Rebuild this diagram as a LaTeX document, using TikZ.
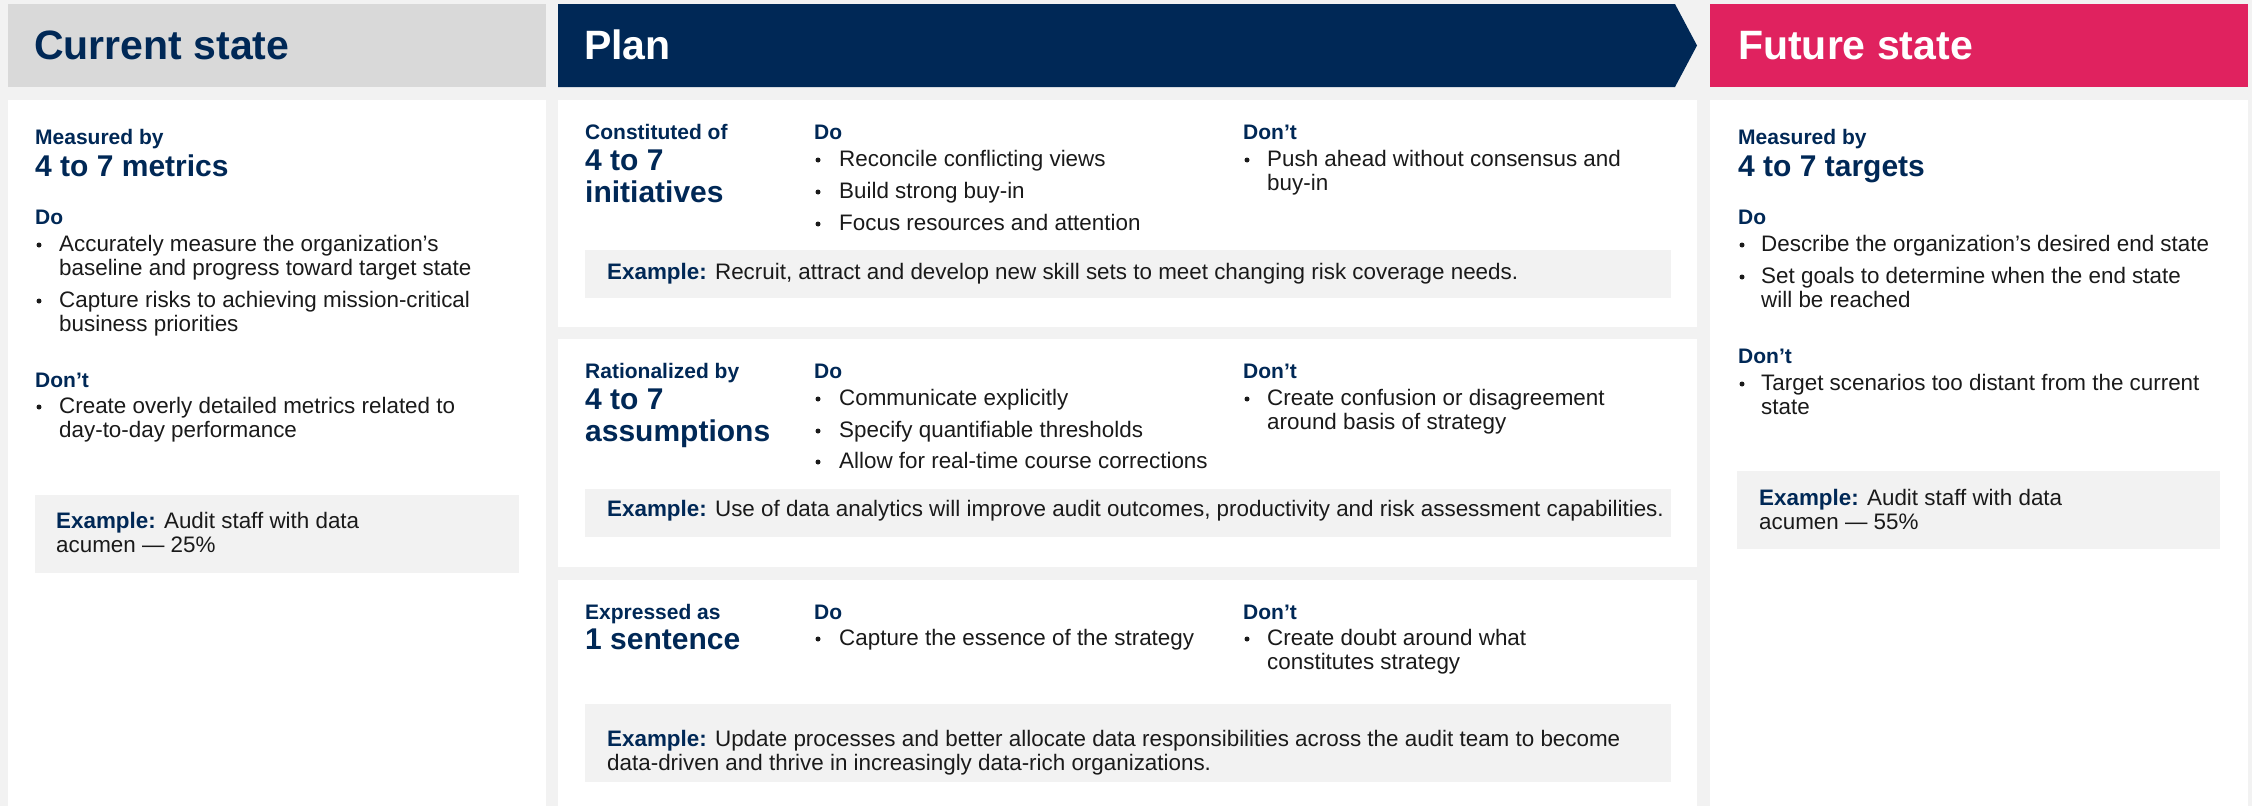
\documentclass[tikz,border=0pt]{standalone}
\usepackage{fontspec}
\setmainfont{Liberation Sans}
\definecolor{navy}{HTML}{002856}
\definecolor{pinkc}{HTML}{E0225F}
\definecolor{hdrgray}{HTML}{D9D9D9}
\definecolor{bgc}{HTML}{F2F2F2}
\definecolor{txt}{HTML}{1A1A1A}
\newcommand\tx[5]{\node[#1,anchor=base west,inner sep=0pt] (#2) at (#3,#4) {#5};}
\newcommand\bu[3]{\node[bulletdot] (#1) at (#2,#3-6) {};}
\newcommand\exl{\textcolor{navy}{\bfseries Example:}}
\begin{document}
\begin{tikzpicture}[x=1pt,y=-1pt,
  hdr/.style={font=\fontsize{41}{44}\selectfont\bfseries},
  lbl/.style={font=\fontsize{21}{24}\selectfont\bfseries,text=navy},
  big/.style={font=\fontsize{30}{32}\selectfont\bfseries,text=navy},
  body/.style={font=\fontsize{22.4}{24}\selectfont,text=txt},
  bulletdot/.style={circle,fill=txt,inner sep=0pt,minimum size=5pt},
  panel/.style={fill=white},
  exbox/.style={fill=bgc}]
\useasboundingbox (0,0) rectangle (2252,806);
\fill[bgc] (0,0) rectangle (2252,806);
% ---------- headers ----------
\fill[hdrgray] (8,4) rectangle (546,87);
\fill[navy] (558,4) -- (1675,4) -- (1697,45.5) -- (1675,87) -- (558,87) -- cycle;
\fill[pinkc] (1710,4) rectangle (2248,87);
\tx{hdr,text=navy}{hcs}{34}{59}{Current state}
\tx{hdr,text=white}{hpl}{584}{59}{Plan}
\tx{hdr,text=white}{hfs}{1738}{59}{Future state}
% ---------- panels ----------
\fill[panel] (8,100) rectangle (546,806);
\fill[panel] (558,100) rectangle (1697,327);
\fill[panel] (558,339) rectangle (1697,567);
\fill[panel] (558,580) rectangle (1697,806);
\fill[panel] (1710,100) rectangle (2248,806);
% ---------- current state ----------
\tx{lbl}{cm1}{35}{144}{Measured by}
\tx{big}{cm2}{35}{176}{4 to 7 metrics}
\tx{lbl}{cdo}{35}{224}{Do}
\bu{cb1}{39}{251}
\tx{body}{ci1a}{59}{251}{Accurately measure the organization’s}
\tx{body}{ci1b}{59}{275}{baseline and progress toward target state}
\bu{cb2}{39}{307}
\tx{body}{ci2a}{59}{307}{Capture risks to achieving mission-critical}
\tx{body}{ci2b}{59}{331}{business priorities}
\tx{lbl}{cdn}{35}{387}{Don’t}
\bu{cb3}{39}{413}
\tx{body}{ci3a}{59}{413}{Create overly detailed metrics related to}
\tx{body}{ci3b}{59}{437}{day-to-day performance}
\fill[exbox] (35,495) rectangle (519,573);
\tx{body}{cexa}{56}{528}{\exl{} Audit staff with data}
\tx{body}{cexb}{56}{552}{acumen — 25\%}
% ---------- plan panel 1 ----------
\tx{lbl}{p1a}{585}{139}{Constituted of}
\tx{big}{p1b}{585}{170}{4 to 7}
\tx{big}{p1c}{585}{202}{initiatives}
\tx{lbl}{p1do}{814}{139}{Do}
\bu{p1b1}{818}{166}
\tx{body}{p1d1}{839}{166}{Reconcile conflicting views}
\bu{p1b2}{818}{198}
\tx{body}{p1d2}{839}{198}{Build strong buy-in}
\bu{p1b3}{818}{230}
\tx{body}{p1d3}{839}{230}{Focus resources and attention}
\tx{lbl}{p1dn}{1243}{139}{Don’t}
\bu{p1b4}{1247}{166}
\tx{body}{p1n1a}{1267}{166}{Push ahead without consensus and}
\tx{body}{p1n1b}{1267}{190}{buy-in}
\fill[exbox] (585,250) rectangle (1671,298);
\tx{body}{p1ex}{607}{279}{\exl{} Recruit, attract and develop new skill sets to meet changing risk coverage needs.}
% ---------- plan panel 2 ----------
\tx{lbl}{p2a}{585}{378}{Rationalized by}
\tx{big}{p2b}{585}{409}{4 to 7}
\tx{big}{p2c}{585}{441}{assumptions}
\tx{lbl}{p2do}{814}{378}{Do}
\bu{p2b1}{818}{405}
\tx{body}{p2d1}{839}{405}{Communicate explicitly}
\bu{p2b2}{818}{437}
\tx{body}{p2d2}{839}{437}{Specify quantifiable thresholds}
\bu{p2b3}{818}{468}
\tx{body}{p2d3}{839}{468}{Allow for real-time course corrections}
\tx{lbl}{p2dn}{1243}{378}{Don’t}
\bu{p2b4}{1247}{405}
\tx{body}{p2n1a}{1267}{405}{Create confusion or disagreement}
\tx{body}{p2n1b}{1267}{429}{around basis of strategy}
\fill[exbox] (585,489) rectangle (1671,537);
\tx{body}{p2ex}{607}{516}{\exl{} Use of data analytics will improve audit outcomes, productivity and risk assessment capabilities.}
% ---------- plan panel 3 ----------
\tx{lbl}{p3a}{585}{619}{Expressed as}
\tx{big}{p3b}{585}{649}{1 sentence}
\tx{lbl}{p3do}{814}{619}{Do}
\bu{p3b1}{818}{645}
\tx{body}{p3d1}{839}{645}{Capture the essence of the strategy}
\tx{lbl}{p3dn}{1243}{619}{Don’t}
\bu{p3b2}{1247}{645}
\tx{body}{p3n1a}{1267}{645}{Create doubt around what}
\tx{body}{p3n1b}{1267}{669}{constitutes strategy}
\fill[exbox] (585,704) rectangle (1671,782);
\tx{body}{p3exa}{607}{746}{\exl{} Update processes and better allocate data responsibilities across the audit team to become}
\tx{body}{p3exb}{607}{770}{data-driven and thrive in increasingly data-rich organizations.}
% ---------- future state ----------
\tx{lbl}{fm1}{1738}{144}{Measured by}
\tx{big}{fm2}{1738}{176}{4 to 7 targets}
\tx{lbl}{fdo}{1738}{224}{Do}
\bu{fb1}{1742}{251}
\tx{body}{fi1}{1761}{251}{Describe the organization’s desired end state}
\bu{fb2}{1742}{283}
\tx{body}{fi2a}{1761}{283}{Set goals to determine when the end state}
\tx{body}{fi2b}{1761}{307}{will be reached}
\tx{lbl}{fdn}{1738}{363}{Don’t}
\bu{fb3}{1742}{390}
\tx{body}{fi3a}{1761}{390}{Target scenarios too distant from the current}
\tx{body}{fi3b}{1761}{414}{state}
\fill[exbox] (1737,471) rectangle (2220,549);
\tx{body}{fexa}{1759}{505}{\exl{} Audit staff with data}
\tx{body}{fexb}{1759}{529}{acumen — 55\%}
\end{tikzpicture}
\end{document}
